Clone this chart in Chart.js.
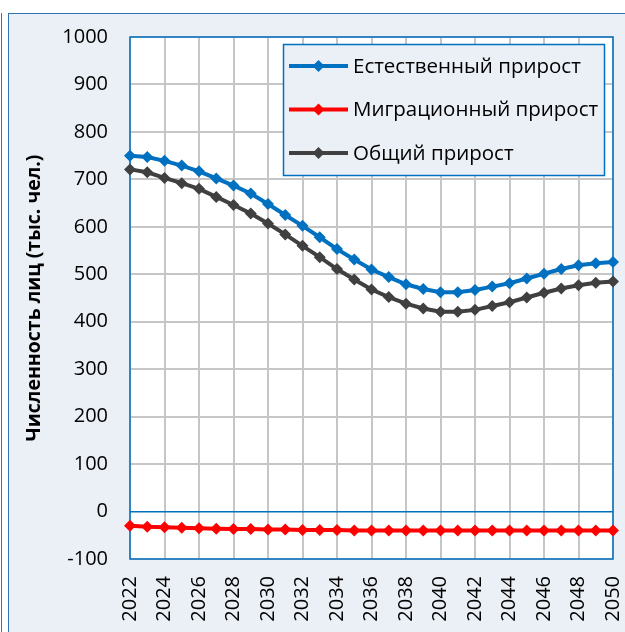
<!DOCTYPE html>
<html>
<head>
<meta charset="utf-8">
<script src="https://cdn.jsdelivr.net/npm/chart.js@4"></script>
<style>
  html, body { margin: 0; padding: 0; background: #fff; overflow: hidden; }
  #frame {
    position: absolute; left: 8px; top: 13px; width: 700px; height: 700px;
    background: #ebf0f7; border: 1px solid #2f75b5;
  }
  #edge {
    position: absolute; left: 1px; top: 13px; width: 0; height: 700px;
    border-left: 1px solid #2f75b5;
  }
  #chart { position: absolute; left: 0; top: 0; }
</style>
</head>
<body>
<div id="edge"></div>
<div id="frame"></div>
<canvas id="chart" width="625" height="632"></canvas>
<script>
// --- Данные (тыс. чел.) ---
const years = [2022, 2023, 2024, 2025, 2026, 2027, 2028, 2029, 2030, 2031,
               2032, 2033, 2034, 2035, 2036, 2037, 2038, 2039, 2040, 2041,
               2042, 2043, 2044, 2045, 2046, 2047, 2048, 2049, 2050];
const natural   = [750, 747, 739, 729, 717, 702, 687, 670, 648, 625,
                   602, 578, 553, 531, 510, 494, 479, 469, 462, 462,
                   467, 474, 481, 491, 501, 511, 519, 523, 526];
const migration = [-30, -32, -33, -34, -35, -36, -37, -37, -38, -38,
                   -39, -39, -39, -40, -40, -40, -40, -40, -40, -40,
                   -40, -40, -40, -40, -40, -40, -40, -40, -40];
const total     = [721, 715, 703, 692, 680, 663, 646, 628, 607, 584,
                   560, 536, 511, 489, 468, 452, 438, 428, 421, 421,
                   425, 433, 441, 451, 461, 470, 477, 482, 485];
const seriesNames = ['Естественный прирост', 'Миграционный прирост', 'Общий прирост'];
const seriesColors = ['#0070c0', '#ff0000', '#404040'];
const yTitle = 'Численность лиц (тыс. чел.)';

const FONT = "'Open Sans', 'Liberation Sans', sans-serif";
const BLUE = '#0070c0';

// --- Фон и рамка области построения ---
const plotFrame = {
    id: 'plotFrame',
    beforeDraw(chart) {
        const { ctx, chartArea: a } = chart;
        ctx.save();
        ctx.fillStyle = '#ffffff';
        ctx.fillRect(a.left, a.top, a.right - a.left, a.bottom - a.top);
        ctx.restore();
    },
    beforeDatasetsDraw(chart) {
        const { ctx, chartArea: a } = chart;
        ctx.save();
        ctx.strokeStyle = BLUE;
        ctx.lineWidth = 1.5;
        ctx.strokeRect(a.left, a.top, a.right - a.left, a.bottom - a.top);
        ctx.restore();
    }
};

// --- Легенда внутри области построения ---
const insideLegend = {
    id: 'insideLegend',
    afterDraw(chart) {
        const { ctx } = chart;
        const box = { x: 283.5, y: 44.5, w: 321, h: 131 };
        ctx.save();
        ctx.fillStyle = '#ebf0f7';
        ctx.fillRect(box.x, box.y, box.w, box.h);
        ctx.strokeStyle = BLUE;
        ctx.lineWidth = 1.5;
        ctx.strokeRect(box.x, box.y, box.w, box.h);
        ctx.font = '20.5px ' + FONT;
        ctx.textBaseline = 'middle';
        chart.data.datasets.forEach((ds, i) => {
            const y = 66 + i * 43.5;
            ctx.strokeStyle = ds.borderColor;
            ctx.lineWidth = 4;
            ctx.beginPath();
            ctx.moveTo(289, y);
            ctx.lineTo(348, y);
            ctx.stroke();
            ctx.fillStyle = ds.borderColor;
            ctx.beginPath();
            ctx.moveTo(318.5, y - 6);
            ctx.lineTo(324.5, y);
            ctx.lineTo(318.5, y + 6);
            ctx.lineTo(312.5, y);
            ctx.closePath();
            ctx.fill();
            ctx.fillStyle = '#000';
            ctx.fillText(ds.label, 353, y + 1);
        });
        ctx.restore();
    }
};

function makeDataset(label, color, data) {
    return {
        label, data,
        borderColor: color,
        backgroundColor: color,
        borderWidth: 4,
        pointStyle: 'rectRot',
        pointRadius: 6,
        pointBorderWidth: 0,
        tension: 0,
        clip: false,
    };
}

new Chart(document.getElementById('chart'), {
    type: 'line',
    data: {
        labels: years,
        datasets: [
            makeDataset(seriesNames[0], seriesColors[0], natural),
            makeDataset(seriesNames[1], seriesColors[1], migration),
            makeDataset(seriesNames[2], seriesColors[2], total),
        ]
    },
    options: {
        responsive: false,
        animation: false,
        layout: { padding: { top: 37, right: 12, left: 0, bottom: 0 } },
        plugins: {
            legend: { display: false },
            tooltip: { enabled: false }
        },
        scales: {
            x: {
                type: 'linear',
                min: 2022, max: 2050,
                afterFit: s => { s.height = 73; s.paddingLeft = 0; s.paddingRight = 0; },
                grid: { color: '#c6c6c6', lineWidth: 2, drawTicks: false },
                border: { display: false },
                ticks: {
                    stepSize: 2,
                    minRotation: 90, maxRotation: 90,
                    padding: 17,
                    color: '#000',
                    font: { family: FONT, size: 20 },
                    callback: v => String(v)
                }
            },
            y: {
                min: -100, max: 1000,
                afterFit: s => { s.width = 130; },
                grid: {
                    color: c => c.tick && c.tick.value === 0 ? BLUE : '#c6c6c6',
                    lineWidth: c => c.tick && c.tick.value === 0 ? 1.5 : 2,
                    drawTicks: false
                },
                border: { display: false },
                ticks: {
                    stepSize: 100,
                    padding: 22,
                    color: '#000',
                    font: { family: FONT, size: 20 },
                    callback: v => String(v)
                },
                title: {
                    display: true,
                    text: yTitle,
                    color: '#000',
                    font: { family: FONT, size: 19.5, weight: 'bold' },
                    padding: { top: 23, bottom: 0 }
                }
            }
        }
    },
    plugins: [plotFrame, insideLegend]
});
</script>
</body>
</html>
